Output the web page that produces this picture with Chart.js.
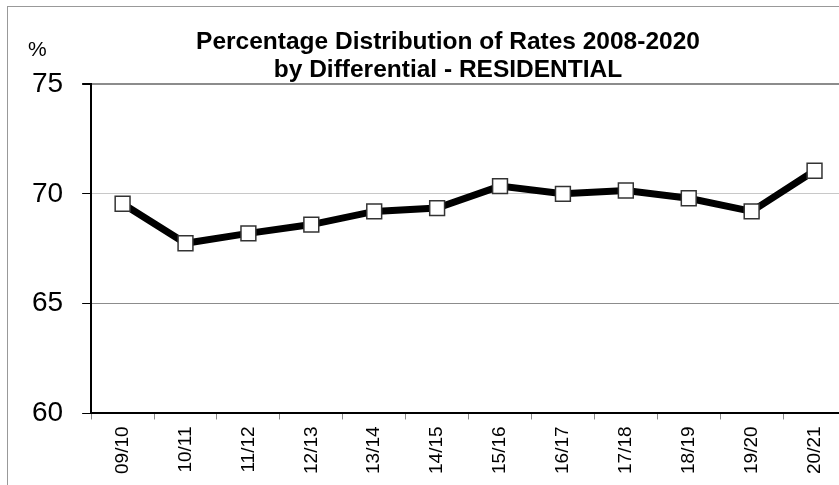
<!DOCTYPE html>
<html lang="en">
<head>
    <meta charset="UTF-8">
    <script src="https://cdn.jsdelivr.net/npm/chart.js@4.4.0/dist/chart.umd.min.js"></script>
    <title>Percentage Distribution of Rates - Residential</title>
    <style type="text/css">
        html, body {
            margin: 0;
            padding: 0;
            background: #fff;
            overflow: hidden;
        }
        #wrap {
            position: relative;
            width: 858px;
            height: 485px;
        }
        #frame {
            position: absolute;
            left: 7px;
            top: 6px;
            right: -20px;
            bottom: -20px;
            border-left: 1px solid #999;
            border-top: 1px solid #999;
        }
    </style>
</head>
<body>
    <div id="wrap">
        <div id="frame"></div>
        <canvas id="rateCanvas" width="858" height="485"></canvas>
    </div>
<script>

// fiscal years and residential share (%)
var years = ["09/10", "10/11", "11/12", "12/13", "13/14", "14/15",
             "15/16", "16/17", "17/18", "18/19", "19/20", "20/21"];
var residential = [69.55, 67.75, 68.2, 68.6, 69.2, 69.35,
                   70.35, 70.0, 70.15, 69.8, 69.2, 71.05];
var yTicks = [60, 65, 70, 75];
var titleLines = ["Percentage Distribution of Rates 2008-2020",
                  "by Differential - RESIDENTIAL"];

var FONT = "'Liberation Sans', Arial, sans-serif";

// title and unit label drawn straight on the canvas
const headerText = {
    id: 'headerText',
    afterDraw(chart) {
        const ctx = chart.ctx;
        ctx.save();
        ctx.fillStyle = '#000';
        ctx.textAlign = 'center';
        ctx.textBaseline = 'alphabetic';
        ctx.font = 'bold 24.5px ' + FONT;
        ctx.fillText(titleLines[0], 448, 49);
        ctx.fillText(titleLines[1], 448, 77);
        ctx.textAlign = 'left';
        ctx.font = '21px ' + FONT;
        ctx.fillText('%', 28, 56);
        ctx.restore();
    }
};

function gridColor(ctx) {
    var v = ctx.tick ? ctx.tick.value : null;
    if (v === 75) return '#8c8c8c';
    if (v === 70) return '#c8c8c8';
    if (v === 65) return '#8c8c8c';
    return 'rgba(0,0,0,0)';
}

var chart = new Chart(document.getElementById('rateCanvas'), {
    type: 'line',
    data: {
        labels: years,
        datasets: [{
            label: 'Residential',
            data: residential,
            borderColor: '#000',
            borderWidth: 7,
            tension: 0,
            pointStyle: 'rect',
            pointRadius: 10.5,
            pointBorderWidth: 1.5,
            pointBorderColor: '#333',
            pointBackgroundColor: '#fff'
        }]
    },
    options: {
        responsive: false,
        animation: false,
        events: [],
        layout: {
            padding: {left: 13, right: 4, top: 84, bottom: 4}
        },
        plugins: {
            legend: {display: false},
            title: {display: false},
            tooltip: {enabled: false}
        },
        scales: {
            x: {
                offset: true,
                border: {color: '#000', width: 2},
                grid: {
                    offset: true,
                    drawOnChartArea: false,
                    tickLength: 6,
                    tickColor: '#888'
                },
                ticks: {
                    minRotation: 90,
                    maxRotation: 90,
                    padding: 7,
                    color: '#000',
                    font: {family: FONT, size: 19}
                }
            },
            y: {
                min: 60,
                max: 75,
                afterBuildTicks: function(axis) {
                    axis.ticks = yTicks.map(function(v) { return {value: v}; });
                },
                border: {color: '#000', width: 2},
                grid: {
                    color: gridColor,
                    lineWidth: function(ctx) { return ctx.tick && ctx.tick.value === 75 ? 2 : 1; },
                    tickLength: 9,
                    tickColor: '#000'
                },
                ticks: {
                    padding: 19,
                    color: '#000',
                    font: {family: FONT, size: 28}
                }
            }
        }
    },
    plugins: [headerText]
});

</script>
</body>
</html>
